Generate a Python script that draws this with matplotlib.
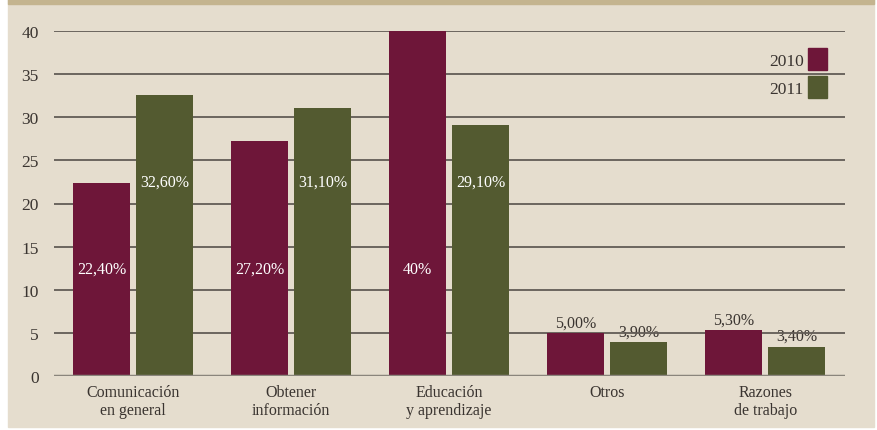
import matplotlib
matplotlib.use("Agg")
import matplotlib.pyplot as plt
import numpy as np
from matplotlib.patches import Rectangle

categories = ["Comunicación\nen general", "Obtener\ninformación", "Educación\ny aprendizaje", "Otros", "Razones\nde trabajo"]
v2010 = [22.4, 27.2, 40, 5.0, 5.3]
v2011 = [32.6, 31.1, 29.1, 3.9, 3.4]
lab2010 = ["22,40%", "27,20%", "40%", "5,00%", "5,30%"]
lab2011 = ["32,60%", "31,10%", "29,10%", "3,90%", "3,40%"]
yticks = [0, 5, 10, 15, 20, 25, 30, 35, 40]

c2010 = "#6e1639"
c2011 = "#535a30"
bg = "#e5ddce"
txt = "#3a3430"

plt.rcParams['font.family'] = ['Liberation Serif', 'DejaVu Serif']

W, H = 878, 431
fig = plt.figure(figsize=(W/100, H/100), dpi=100)
fig.patch.set_facecolor("white")
# background panel
fig.add_artist(Rectangle((8/W, 3/H), (874-8)/W, (431-3)/H, transform=fig.transFigure, color=bg, zorder=-10))
fig.add_artist(Rectangle((8/W, (431-5)/H), (874-8)/W, 5/H, transform=fig.transFigure, color="#c4b48f", zorder=-9))

left, right = 54/W, 845/W
bottom, top = (431-377)/H, (431-32)/H
ax = fig.add_axes([left, bottom, right-left, top-bottom])
ax.set_facecolor("none")
ax.set_xlim(-0.5, 4.505)
ax.set_ylim(0, 40)

x = np.arange(len(categories))
bw = 0.361
off = 0.199
for y in yticks[1:]:
    ax.axhline(y, color="#625c56", lw=1.3, zorder=1)
ax.axhline(0, color="#8a857c", lw=2.5, zorder=3)

ax.bar(x - off, v2010, width=bw, color=c2010, zorder=2, clip_on=False)
ax.bar(x + off, v2011, width=bw, color=c2011, zorder=2, clip_on=False)

for i in range(len(categories)):
    if v2010[i] > 10:
        ax.text(x[i]-off, 12.4, lab2010[i], color="white", ha="center", va="center", fontsize=11.5, zorder=4)
    else:
        ax.text(x[i]-off, v2010[i]+0.3, lab2010[i], color=txt, ha="center", va="bottom", fontsize=11.5, zorder=0)
    if v2011[i] > 10:
        ax.text(x[i]+off, 22.5, lab2011[i], color="white", ha="center", va="center", fontsize=11.5, zorder=4)
    else:
        ax.text(x[i]+off, v2011[i]+0.3, lab2011[i], color=txt, ha="center", va="bottom", fontsize=11.5, zorder=0)

ax.set_yticks(yticks)
ax.set_yticklabels([str(t) for t in yticks], fontsize=12.5, color=txt)
ax.set_xticks(x)
ax.set_xticklabels(categories, fontsize=11.5, color=txt, linespacing=1.15)
ax.tick_params(axis="both", length=0)
ax.tick_params(axis="y", pad=11)
ax.tick_params(axis="x", pad=6)
for s in ax.spines.values():
    s.set_visible(False)

# legend
for k, (lab, col) in enumerate([("2010", c2010), ("2011", c2011)]):
    y0 = 49 + k*28
    fig.add_artist(Rectangle((808/W, (431-y0-22)/H), 19/W, 22/H, transform=fig.transFigure, color=col))
    fig.text(804/W, (431-y0-13)/H, lab, ha="right", va="center", fontsize=12.5, color=txt)

fig.savefig("out.png", dpi=100)
